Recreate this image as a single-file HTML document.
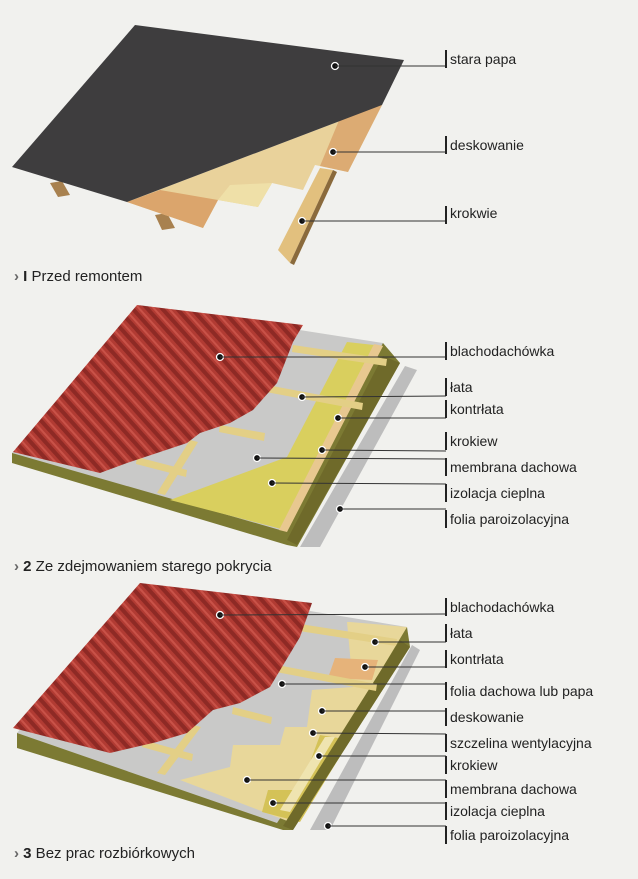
<!DOCTYPE html>
<html><head><meta charset="utf-8">
<style>
html,body{margin:0;padding:0;background:#f1f1ee;}
svg{display:block}
text{font-family:"Liberation Sans",sans-serif;font-size:14px;fill:#222;}
.cap{font-size:15px;}
</style></head><body>
<svg width="638" height="879" viewBox="0 0 638 879" xmlns="http://www.w3.org/2000/svg">
<defs>
<pattern id="rib" patternUnits="userSpaceOnUse" width="11" height="11" patternTransform="rotate(-42)">
<rect width="11" height="11" fill="#b13b33"/>
<rect width="4" height="11" fill="#8e2a25"/>
<rect x="6" width="2" height="11" fill="#c95248"/>
</pattern>
</defs>
<rect width="638" height="879" fill="#f1f1ee"/>

<!-- PANEL 1 -->
<polygon points="50,183 62,181 70,195 58,197" fill="#a8814f"/>
<polygon points="155,215 167,213 175,228 162,230" fill="#a8814f"/>
<polygon points="320,168 333,170 290,263 278,250" fill="#e2c07e"/>
<polygon points="333,170 337,172 294,265 290,263" fill="#8a6a3c"/>
<polygon points="382,105 348,172 315,165 303,190 272,183 258,207 218,200 203,228 127,202" fill="#e9d29b"/>
<polygon points="382,105 348,172 320,166 340,118" fill="#dcab73"/>
<polygon points="218,200 203,228 127,202 160,190" fill="#dba56c"/>
<polygon points="272,183 258,207 218,200 230,185" fill="#efe0a8"/>
<polygon points="135,25 404,60 382,105 127,202 12,167" fill="#3e3d3e"/>
<circle cx="335" cy="66" r="3.5" fill="#111" stroke="#fff" stroke-width="1.3"/>
<line x1="335" y1="66" x2="446" y2="66" stroke="#333"/>
<circle cx="333" cy="152" r="3.5" fill="#111" stroke="#fff" stroke-width="1.3"/>
<line x1="333" y1="152" x2="446" y2="152" stroke="#333"/>
<circle cx="302" cy="221" r="3.5" fill="#111" stroke="#fff" stroke-width="1.3"/>
<line x1="302" y1="221" x2="446" y2="221" stroke="#333"/>
<g fill="#222"><rect x="445" y="50" width="2" height="18"/><rect x="445" y="136" width="2" height="18"/><rect x="445" y="206" width="2" height="18"/></g>
<text x="450" y="64">stara papa</text>
<text x="450" y="150">deskowanie</text>
<text x="450" y="218">krokwie</text>
<text x="14" y="281" class="cap"><tspan fill="#666" font-weight="bold">›</tspan> <tspan font-weight="bold">I</tspan> Przed remontem</text>

<!-- PANEL 2 -->
<polygon points="405,366 417,370 320,547 300,547" fill="#bdbdbd"/>
<polygon points="12,453 383,343 400,363 297,547 287,545 12,463" fill="#7c7a33"/>
<polygon points="12,453 140,305 383,343 280,530" fill="#c9c9c8"/>
<polygon points="170,500 287,457 347,342 383,346 285,530" fill="#d9cf5e"/>
<polygon points="374,344 383,346 287,532 279,530" fill="#e8c890"/>
<polygon points="383,356 400,363 297,545 287,540" fill="#6f6a2a"/>
<polygon points="293,345 387,359 386,366 292,352" fill="#e3cf86"/>
<polygon points="267,385 363,403 362,410 266,392" fill="#e3cf86"/>
<polygon points="220,425 265,433 264,441 219,432" fill="#e3cf86"/>
<polygon points="137,457 187,470 186,477 136,464" fill="#e3cf86"/>
<polygon points="190,440 198,442 165,495 157,493" fill="#e3cf86"/>
<polygon points="137,305 303,325 293,342 277,383 253,410 230,423 200,433 187,443 157,453 127,463 100,473 13,452" fill="url(#rib)"/>
<g fill="#111" stroke="#fff" stroke-width="1.3">
<circle cx="220" cy="357" r="3.5"/><circle cx="302" cy="397" r="3.5"/><circle cx="338" cy="418" r="3.5"/>
<circle cx="322" cy="450" r="3.5"/><circle cx="257" cy="458" r="3.5"/><circle cx="272" cy="483" r="3.5"/><circle cx="340" cy="509" r="3.5"/>
</g>
<g stroke="#333" fill="none">
<polyline points="220,357 446,357"/><polyline points="302,397 446,396"/><polyline points="338,418 446,418"/>
<polyline points="322,450 446,451"/><polyline points="257,458 446,459"/><polyline points="272,483 446,484"/><polyline points="340,509 446,509"/>
</g>
<g fill="#222"><rect x="445" y="342" width="2" height="18"/><rect x="445" y="378" width="2" height="18"/><rect x="445" y="400" width="2" height="18"/><rect x="445" y="432" width="2" height="18"/><rect x="445" y="458" width="2" height="18"/><rect x="445" y="484" width="2" height="18"/><rect x="445" y="510" width="2" height="18"/></g>
<text x="450" y="356">blachodachówka</text>
<text x="450" y="392">łata</text>
<text x="450" y="414">kontrłata</text>
<text x="450" y="446">krokiew</text>
<text x="450" y="472">membrana dachowa</text>
<text x="450" y="498">izolacja cieplna</text>
<text x="450" y="524">folia paroizolacyjna</text>
<text x="14" y="571" class="cap"><tspan fill="#666" font-weight="bold">›</tspan> <tspan font-weight="bold">2</tspan> Ze zdejmowaniem starego pokrycia</text>

<!-- PANEL 3 -->
<polygon points="412,645 420,650 330,830 310,830" fill="#bdbdbd"/>
<polygon points="17,733 407,627 410,647 293,830 283,830 17,748" fill="#7c7a33"/>
<polygon points="17,733 140,583 407,627 277,823" fill="#c9c9c8"/>
<polygon points="350,622 407,627 290,822 180,780 230,767 233,745 280,745 285,727 307,727 312,690 353,687 347,622" fill="#e8d79a"/>
<polygon points="335,658 378,660 372,680 328,678" fill="#e6b37a"/>
<polygon points="320,735 350,740 300,822 262,812 268,790 300,790" fill="#d4c257"/>
<polygon points="325,737 335,737 290,812 280,810" fill="#efe4b0"/>
<polygon points="400,640 410,647 293,830 283,826" fill="#6f6a2a"/>
<polygon points="300,624 397,639 396,646 299,631" fill="#e3cf86"/>
<polygon points="277,665 377,684 376,691 276,672" fill="#e3cf86"/>
<polygon points="233,707 272,717 271,724 232,714" fill="#e3cf86"/>
<polygon points="143,740 193,754 192,761 142,747" fill="#e3cf86"/>
<polygon points="193,725 201,727 165,775 157,773" fill="#e3cf86"/>
<polygon points="140,583 312,603 300,637 270,687 240,703 213,710 187,733 157,742 110,753 13,728" fill="url(#rib)"/>
<g fill="#111" stroke="#fff" stroke-width="1.3">
<circle cx="220" cy="615" r="3.5"/><circle cx="375" cy="642" r="3.5"/><circle cx="365" cy="667" r="3.5"/>
<circle cx="282" cy="684" r="3.5"/><circle cx="322" cy="711" r="3.5"/><circle cx="313" cy="733" r="3.5"/>
<circle cx="319" cy="756" r="3.5"/><circle cx="247" cy="780" r="3.5"/><circle cx="273" cy="803" r="3.5"/><circle cx="328" cy="826" r="3.5"/>
</g>
<g stroke="#333" fill="none">
<polyline points="220,615 446,614"/><polyline points="375,642 446,642"/><polyline points="365,667 446,667"/>
<polyline points="282,684 446,684"/><polyline points="322,711 446,711"/><polyline points="313,733 446,734"/>
<polyline points="319,756 446,756"/><polyline points="247,780 446,780"/><polyline points="273,803 446,803"/><polyline points="328,826 446,826"/>
</g>
<g fill="#222"><rect x="445" y="598" width="2" height="18"/><rect x="445" y="624" width="2" height="18"/><rect x="445" y="650" width="2" height="18"/><rect x="445" y="682" width="2" height="18"/><rect x="445" y="708" width="2" height="18"/><rect x="445" y="734" width="2" height="18"/><rect x="445" y="756" width="2" height="18"/><rect x="445" y="780" width="2" height="18"/><rect x="445" y="802" width="2" height="18"/><rect x="445" y="826" width="2" height="18"/></g>
<text x="450" y="612">blachodachówka</text>
<text x="450" y="638">łata</text>
<text x="450" y="664">kontrłata</text>
<text x="450" y="696">folia dachowa lub papa</text>
<text x="450" y="722">deskowanie</text>
<text x="450" y="748">szczelina wentylacyjna</text>
<text x="450" y="770">krokiew</text>
<text x="450" y="794">membrana dachowa</text>
<text x="450" y="816">izolacja cieplna</text>
<text x="450" y="840">folia paroizolacyjna</text>
<text x="14" y="858" class="cap"><tspan fill="#666" font-weight="bold">›</tspan> <tspan font-weight="bold">3</tspan> Bez prac rozbiórkowych</text>
</svg>
</body></html>
